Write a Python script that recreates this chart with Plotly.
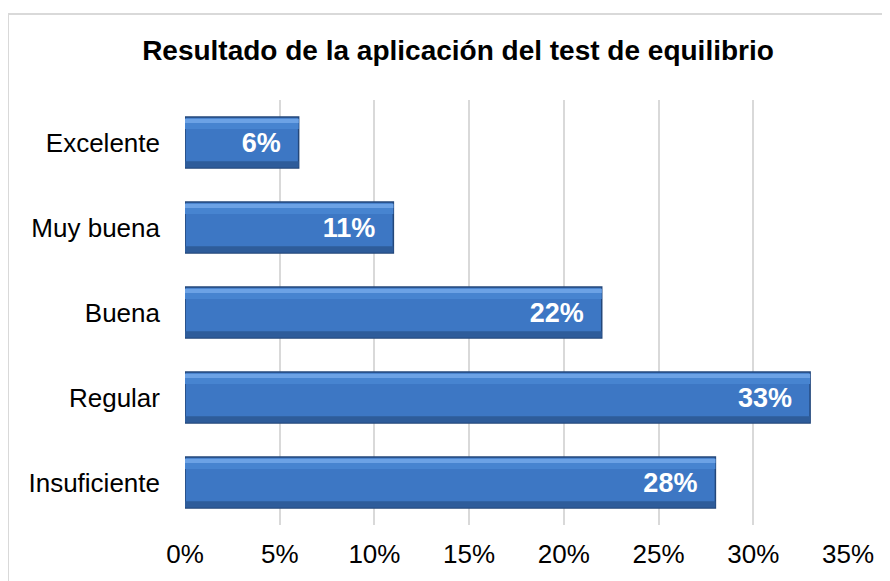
import plotly.graph_objects as go

categories = ["Insuficiente", "Regular", "Buena", "Muy buena", "Excelente"]
values = [28, 33, 22, 11, 6]
labels = ["28%", "33%", "22%", "11%", "6%"]
tick_vals = [0, 5, 10, 15, 20, 25, 30, 35]
tick_text = ["0%", "5%", "10%", "15%", "20%", "25%", "30%", "35%"]
title = "Resultado de la aplicación del test de equilibrio"

pad = "\u00a0\u00a0"
fig = go.Figure()
# main bar
fig.add_trace(go.Bar(
    y=categories, x=values, orientation="h", width=0.6,
    marker=dict(color="#3d77c4", line=dict(color="#23477a", width=1.5)),
    text=[t + pad for t in labels], textposition="inside", insidetextanchor="end",
    textfont=dict(family="Liberation Sans, Arial", size=27, color="white", weight="bold"),
    hoverinfo="skip", showlegend=False,
))
# upper lighter band
fig.add_trace(go.Bar(
    y=categories, x=values, orientation="h", width=0.12, offset=0.16,
    marker=dict(color="#4784d0", line=dict(width=0)),
    hoverinfo="skip", showlegend=False,
))
# top highlight strip
fig.add_trace(go.Bar(
    y=categories, x=values, orientation="h", width=0.05, offset=0.23,
    marker=dict(color="#6ca2e5", line=dict(width=0)),
    hoverinfo="skip", showlegend=False,
))
# bottom shade strip
fig.add_trace(go.Bar(
    y=categories, x=values, orientation="h", width=0.07, offset=-0.29,
    marker=dict(color="#2e5c9a", line=dict(width=0)),
    hoverinfo="skip", showlegend=False,
))

fig.update_layout(
    width=890, height=581,
    barmode="overlay",
    plot_bgcolor="white", paper_bgcolor="white",
    margin=dict(l=177, r=50, t=92, b=64),
    font=dict(family="Liberation Sans, Arial", size=26, color="black"),
    title=dict(text=title, x=0.5056, xanchor="center", y=0.928, yanchor="middle",
               font=dict(size=28, weight="bold", color="black")),
    shapes=[dict(type="rect", xref="paper", yref="paper",
                 x0=-0.267, x1=1.2, y0=-0.3, y1=1.2024,
                 line=dict(color="#d9d9d9", width=2), fillcolor="rgba(0,0,0,0)", layer="below")],
)
fig.update_xaxes(range=[0, 35], tickvals=tick_vals, ticktext=tick_text,
                 showgrid=True, gridcolor="#d9d9d9", gridwidth=2, zeroline=False,
                 showline=False, ticklabelstandoff=11, fixedrange=True)
fig.update_yaxes(showgrid=False, showline=False, zeroline=False,
                 ticklabelstandoff=24, fixedrange=True)

fig.write_html("out.html")
